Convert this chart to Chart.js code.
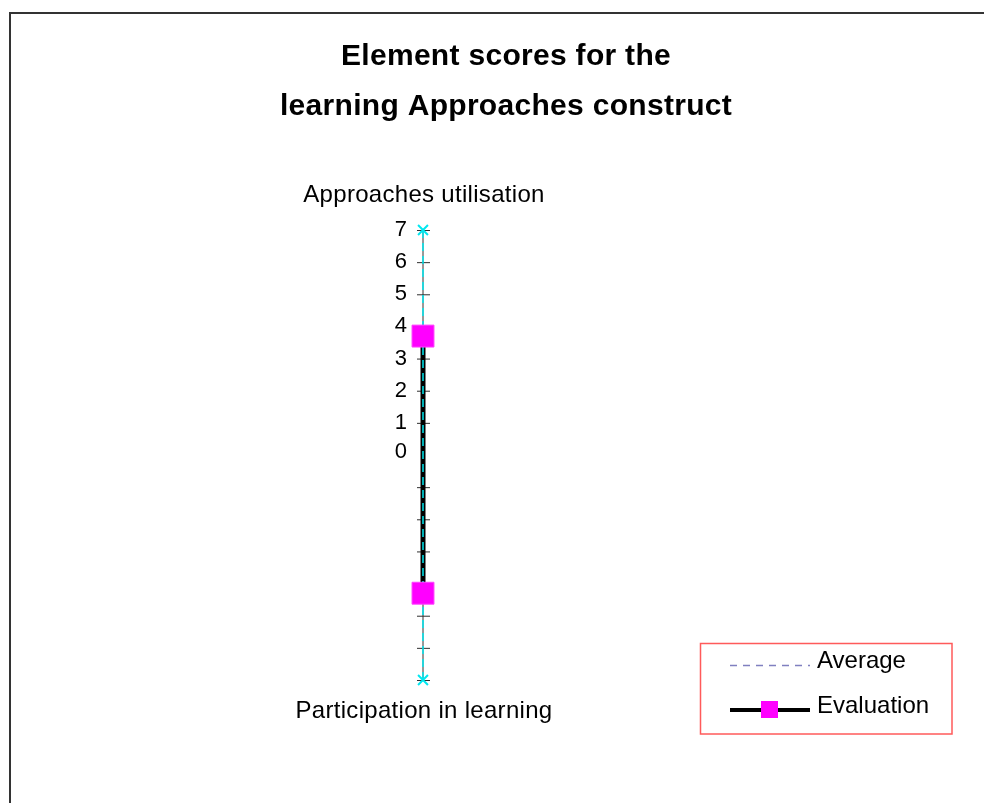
<!DOCTYPE html>
<html>
<head>
<meta charset="utf-8">
<title>Element scores for the learning Approaches construct</title>
<script src="https://cdn.jsdelivr.net/npm/chart.js@4.4.0/dist/chart.umd.min.js"></script>
<style>
    html, body { margin: 0; padding: 0; background: #fff; }
    #wrap { position: relative; width: 984px; height: 803px; }
</style>
</head>
<body>
<div id="wrap"><canvas id="radar-chart"></canvas></div>
<script>
// Chart data
var titleLines = ['Element scores for the', 'learning Approaches construct'];
var categories = ['Approaches utilisation', 'Participation in learning'];
var tickValues = [0, 1, 2, 3, 4, 5, 6, 7];
var averageScores = [3.5, 4.0];
var evaluationScores = [3.7, 4.3];
var maxScores = [7, 7];

var FONT = '"Liberation Sans", Arial, sans-serif';
var CYAN = '#00e8f0';

// Draws frame, title, axis ticks, labels and the boxed legend
var decorPlugin = {
    id: 'decor',
    beforeDraw: function(chart) {
        var ctx = chart.ctx;
        ctx.save();
        ctx.fillStyle = '#fff';
        ctx.fillRect(0, 0, chart.width, chart.height);
        ctx.strokeStyle = '#333';
        ctx.lineWidth = 2;
        ctx.strokeRect(10, 13, 1000, 900);
        ctx.restore();
    },
    beforeDatasetsDraw: function(chart) {
        // with only two spokes the radar loop runs back over itself and
        // fills in the dashes, so draw each series as an open path
        chart.data.datasets.forEach(function(ds, i) {
            var line = chart.getDatasetMeta(i).dataset;
            if (line) {
                line._loop = false;
                line._fullLoop = false;
                delete line._segments;
                delete line._path;
            }
        });

        var ctx = chart.ctx;
        var scale = chart.scales.r;
        ctx.save();
        // tick marks on both spokes
        ctx.strokeStyle = '#303030';
        ctx.lineWidth = 1;
        for (var i = 0; i < categories.length; i++) {
            tickValues.forEach(function(v) {
                if (v === 0) return;
                var p = scale.getPointPositionForValue(i, v);
                ctx.beginPath();
                ctx.moveTo(p.x - 6, p.y + 0.5);
                ctx.lineTo(p.x + 7, p.y + 0.5);
                ctx.stroke();
            });
        }
        ctx.restore();
    },
    afterDraw: function(chart) {
        var ctx = chart.ctx;
        var scale = chart.scales.r;
        ctx.save();
        ctx.fillStyle = '#000';

        // title
        ctx.font = 'bold 30px ' + FONT;
        ctx.textAlign = 'center';
        ctx.textBaseline = 'alphabetic';
        ctx.letterSpacing = '0.3px';
        ctx.fillText(titleLines[0], 506, 65);
        ctx.fillText(titleLines[1], 506, 115);

        // tick labels along the top spoke
        ctx.font = '22px ' + FONT;
        ctx.letterSpacing = '0px';
        ctx.textAlign = 'right';
        ctx.textBaseline = 'middle';
        tickValues.forEach(function(v) {
            var p = scale.getPointPositionForValue(0, v);
            ctx.fillText(String(v), p.x - 16, v === 0 ? p.y - 3 : p.y);
        });

        // category labels
        ctx.font = '24px ' + FONT;
        ctx.letterSpacing = '0.3px';
        ctx.textAlign = 'center';
        ctx.textBaseline = 'alphabetic';
        var top = scale.getPointPositionForValue(0, 7);
        var bottom = scale.getPointPositionForValue(1, 7);
        ctx.fillText(categories[0], top.x + 1, top.y - 28);
        ctx.fillText(categories[1], bottom.x + 1, bottom.y + 38);

        // legend box
        ctx.strokeStyle = '#ff5a5a';
        ctx.lineWidth = 1.5;
        ctx.strokeRect(700.5, 643.5, 251.5, 90.5);

        ctx.strokeStyle = '#8080c0';
        ctx.lineWidth = 1.5;
        ctx.setLineDash([7, 6]);
        ctx.beginPath();
        ctx.moveTo(730, 665.5);
        ctx.lineTo(810, 665.5);
        ctx.stroke();
        ctx.setLineDash([]);

        ctx.strokeStyle = '#000';
        ctx.lineWidth = 4;
        ctx.beginPath();
        ctx.moveTo(730, 710);
        ctx.lineTo(810, 710);
        ctx.stroke();
        ctx.fillStyle = '#ff00ff';
        ctx.fillRect(761, 701, 17, 17);

        ctx.fillStyle = '#000';
        ctx.font = '24px ' + FONT;
        ctx.letterSpacing = '0px';
        ctx.textAlign = 'left';
        ctx.fillText('Average', 817, 668);
        ctx.fillText('Evaluation', 817, 713);
        ctx.restore();
    }
};

var radarChart = new Chart(document.getElementById('radar-chart'), {
    type: 'radar',
    data: {
        labels: categories,
        datasets: [{
            label: 'Evaluation',
            data: evaluationScores,
            showLine: false,
            pointStyle: 'rect',
            pointRadius: 15.5,
            pointBackgroundColor: '#ff00ff',
            pointBorderColor: '#ff40ff',
            pointBorderWidth: 1
        }, {
            label: 'Range',
            data: maxScores,
            borderColor: CYAN,
            borderWidth: 1.5,
            borderDash: [8, 5],
            fill: false,
            pointStyle: 'crossRot',
            pointRadius: 7,
            pointBorderColor: CYAN,
            pointBorderWidth: 2
        }, {
            label: 'Evaluation line',
            data: evaluationScores,
            borderColor: '#000',
            borderWidth: 5,
            fill: false,
            pointRadius: 0
        }, {
            label: 'Average',
            data: averageScores,
            borderColor: '#8080c0',
            borderWidth: 1.5,
            borderDash: [7, 6],
            fill: false,
            pointRadius: 0
        }]
    },
    options: {
        responsive: true,
        maintainAspectRatio: false,
        animation: false,
        layout: {
            padding: { left: 198, right: 336, top: 230, bottom: 123 }
        },
        plugins: {
            legend: { display: false },
            title: { display: false },
            tooltip: { enabled: false }
        },
        scales: {
            r: {
                min: 0,
                max: 7,
                ticks: { display: false, stepSize: 1 },
                grid: { display: false },
                angleLines: { display: true, color: '#333', lineWidth: 1 },
                pointLabels: { display: false }
            }
        }
    },
    plugins: [decorPlugin]
});
</script>
</body>
</html>
